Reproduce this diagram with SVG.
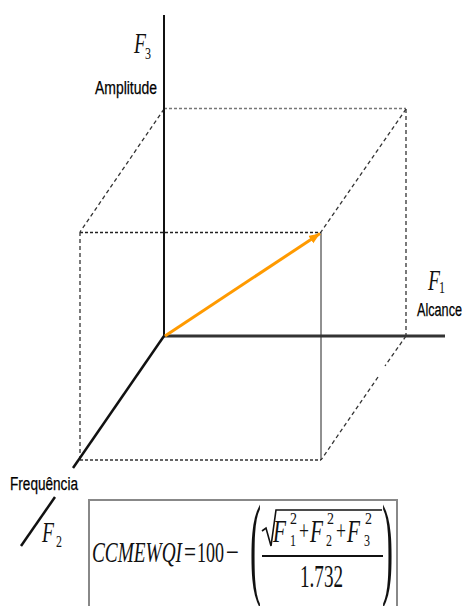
<svg xmlns="http://www.w3.org/2000/svg" width="463" height="606" viewBox="0 0 463 606">
<defs>
<style>
.axis{stroke:#111;fill:none;stroke-linecap:butt}
.dash{stroke:#333;stroke-width:1.3;fill:none;stroke-dasharray:4 3}
.dot{stroke:#333;stroke-width:1.6;fill:none;stroke-dasharray:3 2}
.lbl{font-family:"Liberation Sans",Arial,sans-serif;font-size:18px;fill:#000;stroke:#000;stroke-width:0.25}
.var{font-family:"Liberation Serif","Times New Roman",serif;font-style:italic;fill:#111}
.num{font-family:"Liberation Serif","Times New Roman",serif;fill:#111}
</style>
<marker id="ah" markerUnits="userSpaceOnUse" markerWidth="12" markerHeight="10" refX="11" refY="4.5" orient="auto">
<path d="M0,0 L11,4.5 L0,9 z" fill="#FF9A00"/>
</marker>
</defs>
<rect width="463" height="606" fill="#fff"/>
<g id="connectors">
<line class="dot" x1="164" y1="108.5" x2="406" y2="108.5" style="stroke:#777"/>
<line class="dash" x1="406" y1="109" x2="406" y2="336"/>
<line class="dash" x1="164" y1="109" x2="80" y2="232"/>
<line class="dash" x1="406" y1="109" x2="321" y2="232"/>
<line class="dot" x1="80" y1="232.5" x2="321" y2="232.5" style="stroke:#222"/>
<line class="dash" x1="80" y1="232" x2="80" y2="460"/>
<line class="dot" x1="80" y1="460" x2="321" y2="460"/>
<line x1="321" y1="232" x2="321" y2="460" stroke="#222" stroke-width="1"/>
<line class="dash" x1="406" y1="336" x2="385" y2="366"/>
<line class="dash" x1="378" y1="377" x2="321" y2="460"/>
<line class="axis" x1="164" y1="15" x2="164" y2="337" stroke-width="2"/>
<line x1="164" y1="336" x2="445" y2="336" stroke="#333" stroke-width="3"/>
<line class="axis" x1="164" y1="336" x2="73" y2="468" stroke-width="2.5"/>
<line class="axis" x1="55" y1="497" x2="21" y2="546" stroke-width="2.5"/>
<line x1="165" y1="336" x2="320" y2="233.5" stroke="#FF9A00" stroke-width="3" marker-end="url(#ah)"/>
</g>
<g id="label-f3">
<text class="var" x="134" y="53" font-size="30" textLength="12" lengthAdjust="spacingAndGlyphs">F</text>
<text class="num" x="145" y="59" font-size="17" textLength="6" lengthAdjust="spacingAndGlyphs">3</text>
<text class="lbl" x="95" y="94" textLength="62" lengthAdjust="spacingAndGlyphs">Amplitude</text>
</g>
<g id="label-f1">
<text class="var" x="428" y="290" font-size="30" textLength="12" lengthAdjust="spacingAndGlyphs">F</text>
<text class="num" x="439" y="293" font-size="17" textLength="6" lengthAdjust="spacingAndGlyphs">1</text>
<text class="lbl" x="417" y="316" textLength="45" lengthAdjust="spacingAndGlyphs">Alcance</text>
</g>
<g id="label-f2">
<text class="lbl" x="10" y="490" textLength="68" lengthAdjust="spacingAndGlyphs">Frequência</text>
<text class="var" x="42" y="542" font-size="30" textLength="12" lengthAdjust="spacingAndGlyphs">F</text>
<text class="num" x="56" y="547" font-size="17" textLength="6" lengthAdjust="spacingAndGlyphs">2</text>
</g>
<g id="formula">
<rect x="89" y="500" width="308" height="120" fill="none" stroke="#888" stroke-width="2"/>
<text class="var" x="92" y="562" font-size="30" textLength="90" lengthAdjust="spacingAndGlyphs">CCMEWQI</text>
<text class="num" x="184" y="562" font-size="30" textLength="12" lengthAdjust="spacingAndGlyphs">=</text>
<text class="num" x="197" y="562" font-size="30" textLength="27" lengthAdjust="spacingAndGlyphs">100</text>
<text class="num" x="226" y="562" font-size="30" textLength="13" lengthAdjust="spacingAndGlyphs">−</text>
<text class="num" x="250" y="584" font-size="114" textLength="11" lengthAdjust="spacingAndGlyphs">(</text>
<text class="num" x="382" y="584" font-size="114" textLength="11" lengthAdjust="spacingAndGlyphs">)</text>
<path d="M262,531 L266,528 L271,546 L276,510 L382,510" fill="none" stroke="#111" stroke-width="1.6"/>
<text class="var" x="273" y="542" font-size="32" textLength="13" lengthAdjust="spacingAndGlyphs">F</text>
<text class="num" x="290" y="546" font-size="17" textLength="6" lengthAdjust="spacingAndGlyphs">1</text>
<text class="num" x="290" y="524" font-size="17" textLength="7" lengthAdjust="spacingAndGlyphs">2</text>
<text class="num" x="299" y="540" font-size="28" textLength="10" lengthAdjust="spacingAndGlyphs">+</text>
<text class="var" x="310" y="542" font-size="32" textLength="13" lengthAdjust="spacingAndGlyphs">F</text>
<text class="num" x="326" y="546" font-size="17" textLength="6" lengthAdjust="spacingAndGlyphs">2</text>
<text class="num" x="327" y="524" font-size="17" textLength="7" lengthAdjust="spacingAndGlyphs">2</text>
<text class="num" x="336" y="540" font-size="28" textLength="10" lengthAdjust="spacingAndGlyphs">+</text>
<text class="var" x="347" y="542" font-size="32" textLength="13" lengthAdjust="spacingAndGlyphs">F</text>
<text class="num" x="364" y="546" font-size="17" textLength="6" lengthAdjust="spacingAndGlyphs">3</text>
<text class="num" x="365" y="524" font-size="17" textLength="7" lengthAdjust="spacingAndGlyphs">2</text>
<line x1="262" y1="556" x2="383" y2="556" stroke="#111" stroke-width="1.8"/>
<text class="num" x="300" y="587" font-size="32" textLength="43" lengthAdjust="spacingAndGlyphs">1.732</text>
</g>
</svg>
